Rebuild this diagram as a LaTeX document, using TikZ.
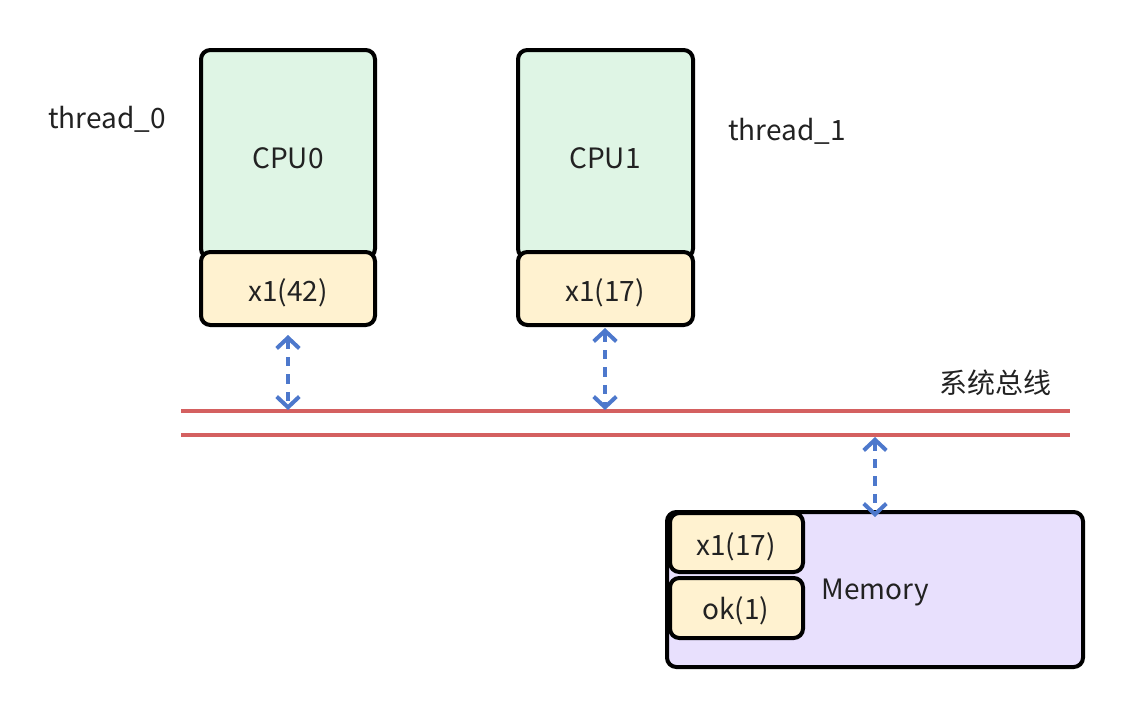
\documentclass[tikz,border=0pt]{standalone}
\usepackage{fontspec}
\setmainfont{Noto Sans CJK SC}
\usetikzlibrary{arrows.meta}
\definecolor{cpufill}{HTML}{DFF5E5}
\definecolor{regfill}{HTML}{FFF2D0}
\definecolor{memfill}{HTML}{E8E0FD}
\definecolor{busred}{HTML}{D46060}
\definecolor{arrblue}{HTML}{4D78CC}
\definecolor{txt}{HTML}{222222}
\tikzset{
  box/.style={draw=black, line width=3pt, rounded corners=7pt},
  lbl/.style={font=\fontsize{21}{25}\selectfont, text=txt, inner sep=0pt},
  busline/.style={draw=busred, line width=3pt},
  link/.style={draw=arrblue, line width=3pt, dash pattern=on 7pt off 6pt,
    {Straight Barb[length=8pt,width=17pt,line width=3pt]}-{Straight Barb[length=8pt,width=17pt,line width=3pt]}}
}
\begin{document}
\begin{tikzpicture}[x=0.75pt,y=-0.75pt]
\useasboundingbox (0,0) rectangle (1134,718);
% CPU0
\draw[box, fill=cpufill] (201,50) rectangle (375,258);
\node[lbl] (cpu0) at (288,158) {CPU0};
\draw[box, fill=regfill] (201,252) rectangle (375,325);
\node[lbl] (r0) at (288,293) {x1(42)};
\coordinate (r0b) at (288,335);
% CPU1
\draw[box, fill=cpufill] (518,50) rectangle (693,258);
\node[lbl] (cpu1) at (605,158) {CPU1};
\draw[box, fill=regfill] (518,252) rectangle (693,325);
\node[lbl] (r1) at (605,293) {x1(17)};
\coordinate (r1b) at (605,328);
% thread labels
\node[lbl] (t0) at (107,119) {thread\_0};
\node[lbl] (t1) at (787,131) {thread\_1};
% bus
\coordinate (busAl) at (181,411);
\coordinate (busAr) at (1070,411);
\coordinate (busBl) at (181,435);
\coordinate (busBr) at (1070,435);
\draw[busline] (busAl) -- (busAr);
\draw[busline] (busBl) -- (busBr);
\node[lbl] (buslbl) at (995,383) {系统总线};
% memory
\draw[box, fill=memfill] (667,512) rectangle (1083,667);
\draw[box, fill=regfill] (670,513) rectangle (803,572);
\draw[box, fill=regfill] (670,578) rectangle (803,638);
\node[lbl] (m1) at (736,547) {x1(17)};
\node[lbl] (m2) at (736,611) {ok(1)};
\node[lbl] (mem) at (875,593) {Memory};
% links
\coordinate (b0) at (288,410);
\coordinate (b1) at (605,410);
\coordinate (b2) at (875,437);
\coordinate (memtop) at (875,517);
\draw[link] (r0b) -- (b0);
\draw[link] (r1b) -- (b1);
\draw[link] (b2) -- (memtop);
\end{tikzpicture}
\end{document}
